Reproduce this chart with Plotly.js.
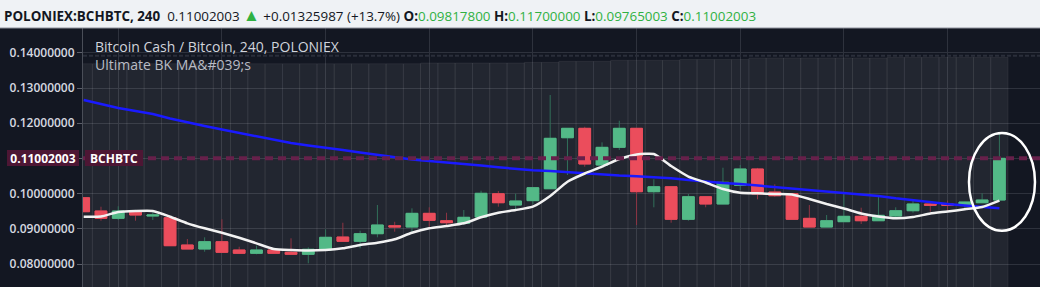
<!DOCTYPE html>
<html><head><meta charset="utf-8">
<script src="https://cdn.plot.ly/plotly-3.0.1.min.js"></script>
<style>html,body{margin:0;padding:0;background:#131722;overflow:hidden}#chart{width:1040px;height:287px}</style>
</head><body><div id="chart"></div>
<script>
// ---- data (BCHBTC, 240 min, POLONIEX) ----
const openP  = [0.09884,0.09506,0.09298,0.09514,0.09364,0.09315,0.08540,0.08426,0.08634,0.08398,
                0.08304,0.08398,0.08332,0.08276,0.08398,0.08767,0.08645,0.08861,0.09088,0.09051,
                0.09440,0.09230,0.09156,0.09335,0.09997,0.09676,0.09800,0.10139,0.11588,0.11855,
                0.10813,0.11315,0.11855,0.10054,0.10196,0.09270,0.09912,0.09705,0.10236,0.10699,
                0.10045,0.10000,0.09298,0.09051,0.09202,0.09355,0.09230,0.09364,0.09514,0.09705,
                0.09705,0.09676,0.09741,0.09817800];
const highP  = [0.09884,0.09628,0.09640,0.09520,0.09477,0.09364,0.08710,0.08759,0.09270,0.08491,
                0.08520,0.08410,0.08730,0.08474,0.08986,0.09173,0.08946,0.09676,0.09200,0.09582,
                0.09611,0.09457,0.09534,0.10082,0.10074,0.10000,0.10170,0.12801,0.11860,0.11900,
                0.11457,0.12071,0.11860,0.10406,0.10200,0.09989,0.09920,0.10736,0.10813,0.10730,
                0.10264,0.10009,0.09676,0.09392,0.10009,0.09600,0.09912,0.09611,0.09798,0.09790,
                0.09800,0.09770,0.10009,0.11700000];
const lowP   = [0.09486,0.09230,0.09250,0.09230,0.09250,0.08520,0.08426,0.08349,0.08332,0.08304,
                0.08276,0.08290,0.08276,0.08020,0.08398,0.08645,0.08446,0.08759,0.08918,0.08872,
                0.09060,0.09060,0.09108,0.09330,0.09628,0.09514,0.09700,0.10139,0.10528,0.10764,
                0.10800,0.11239,0.09108,0.09611,0.09173,0.09230,0.09611,0.09700,0.10102,0.09838,
                0.09912,0.09270,0.09050,0.09050,0.09200,0.09136,0.09230,0.09327,0.09457,0.09486,
                0.09480,0.09534,0.09740,0.09765003];
const closeP = [0.09486,0.09298,0.09506,0.09392,0.09392,0.08520,0.08426,0.08634,0.08332,0.08304,
                0.08398,0.08304,0.08276,0.08418,0.08759,0.08645,0.08861,0.09108,0.09051,0.09440,
                0.09241,0.09173,0.09327,0.10009,0.09741,0.09790,0.10168,0.11571,0.11855,0.10841,
                0.11315,0.11855,0.10054,0.10196,0.09270,0.09912,0.09705,0.10321,0.10699,0.09989,
                0.09940,0.09270,0.09051,0.09230,0.09355,0.09230,0.09383,0.09514,0.09705,0.09668,
                0.09668,0.09761,0.09818,0.11002003];
// Ultimate BK MA's : fast (white) and slow (blue)
const maFast = [0.09344,0.09350,0.09477,0.09506,0.09506,0.09344,0.09156,0.09014,0.08889,0.08747,
                0.08588,0.08426,0.08398,0.08384,0.08398,0.08446,0.08540,0.08605,0.08702,0.08889,
                0.09014,0.09080,0.09156,0.09327,0.09457,0.09534,0.09628,0.09932,0.10338,0.10571,
                0.10764,0.10983,0.11111,0.11125,0.10784,0.10486,0.10315,0.10131,0.10026,0.10009,
                0.09989,0.09974,0.09847,0.09705,0.09577,0.09435,0.09350,0.09298,0.09335,0.09435,
                0.09491,0.09554,0.09619,0.09800];
const maSlow = [0.12659,0.12545,0.12432,0.12347,0.12261,0.12134,0.12020,0.11920,0.11821,0.11722,
                0.11622,0.11523,0.11438,0.11366,0.11310,0.11239,0.11168,0.11097,0.11026,0.10970,
                0.10926,0.10889,0.10850,0.10798,0.10747,0.10699,0.10662,0.10642,0.10605,0.10571,
                0.10543,0.10514,0.10494,0.10472,0.10438,0.10386,0.10338,0.10301,0.10273,0.10230,
                0.10202,0.10159,0.10111,0.10065,0.10031,0.09989,0.09932,0.09866,0.09810,0.09747,
                0.09705,0.09662,0.09619,0.09582];
// background column indicator (stepped top)
const bandTop = [0.13690,0.13690,0.13690,0.13690,0.13690,0.13690,0.13690,0.13690,0.13690,0.13690,
                 0.13690,0.13690,0.13690,0.13690,0.13690,0.13690,0.13690,0.13690,0.13690,0.13690,
                 0.13710,0.13710,0.13710,0.13710,0.13710,0.13710,0.13730,0.13730,0.13759,0.13759,
                 0.13759,0.13787,0.13787,0.13787,0.13787,0.13810,0.13810,0.13810,0.13810,0.13852,
                 0.13852,0.13852,0.13852,0.13852,0.13852,0.13852,0.13852,0.13872,0.13872,0.13872,
                 0.13872,0.13872,0.13872,0.13872];
const upperLine = 0.1392;
const symbol = 'POLONIEX:BCHBTC, 240';
const ticker = 'BCHBTC';
const changeTxt = '+0.01325987 (+13.7%)';
const titleLine = 'Bitcoin Cash / Bitcoin, 240, POLONIEX';
const studyLine = 'Ultimate BK MA&amp;#039;s';
const yTickVals = [0.08,0.09,0.10,0.11,0.12,0.13,0.14];

// ---- build ----
const idx = openP.map((_, i) => i);
const last = idx.length - 1;
const f8 = v => v.toFixed(8);
const bodyHi = openP.map((o, i) => Math.max(o, closeP[i]));
const bodyLo = openP.map((o, i) => Math.min(o, closeP[i]));
const GREEN = '#53b987', RED = '#eb4d5c';

const traces = [
  {type:'bar', x:idx, y:bandTop, width:1, hoverinfo:'skip',
   marker:{color:'rgba(255,255,255,0.065)', line:{color:'rgba(255,255,255,0.06)', width:1}}},
  {type:'scatter', mode:'lines', x:idx, y:maSlow, hoverinfo:'skip',
   line:{color:'#1a1aff', width:2.5}},
  {type:'scatter', mode:'lines', x:idx, y:maFast, hoverinfo:'skip',
   line:{color:'#f2f2f2', width:2.5, shape:'spline', smoothing:0.5}},
  {type:'candlestick', x:idx, open:openP, high:highP, low:lowP, close:closeP, hoverinfo:'skip',
   increasing:{line:{color:'#32705a', width:1}, fillcolor:'#32705a'},
   decreasing:{line:{color:'#8e3444', width:1}, fillcolor:'#8e3444'}},
  {type:'candlestick', x:idx, open:openP, high:bodyHi, low:bodyLo, close:closeP, hoverinfo:'skip',
   increasing:{line:{color:GREEN, width:1}, fillcolor:GREEN},
   decreasing:{line:{color:RED, width:1}, fillcolor:RED}}
];

const PW = 1040 - 83, PH = 287 - 28;
const G = '#2fb142';
const headerTxt = '<b>' + symbol + '</b>\u00a0\u00a00.11002003 <span style="color:' + G + ';font-size:17px">▲</span> ' + changeTxt +
  ' <b>O:</b><span style="color:' + G + '">' + f8(openP[last]) + '</span>' +
  ' <b>H:</b><span style="color:' + G + '">' + f8(highP[last]) + '</span>' +
  ' <b>L:</b><span style="color:' + G + '">' + f8(lowP[last]) + '</span>' +
  ' <b>C:</b><span style="color:' + G + '">' + f8(closeP[last]) + '</span>';

const layout = {
  width:1040, height:287,
  margin:{l:83, r:0, t:28, b:0, pad:0},
  paper_bgcolor:'#131722', plot_bgcolor:'#131722',
  showlegend:false, boxgap:0.32, boxgroupgap:0, bargap:0,
  xaxis:{range:[-0.04, 55.35], showticklabels:false, showgrid:true, gridcolor:'#2e323d',
         tick0:2, dtick:6, zeroline:false, showline:false, ticks:'', rangeslider:{visible:false}, fixedrange:true},
  yaxis:{range:[0.07347, 0.14705], tickvals:yTickVals, tickformat:'.8f', showgrid:true, gridcolor:'#2e323d',
         zeroline:false, showline:true, linecolor:'#4a4e58', linewidth:1, ticks:'outside', ticklen:5,
         tickcolor:'#5d606b', tickfont:{family:'Open Sans', size:12, color:'#d6d9e0', weight:600}, fixedrange:true},
  shapes:[
    {type:'rect', xref:'paper', yref:'paper', x0:-0.1, x1:1.01, y0:1, y1:1.12, fillcolor:'#eff2f5', line:{width:0}, layer:'below'},
    {type:'line', xref:'paper', yref:'paper', x0:-0.1, x1:1.01, y0:1, y1:1, line:{color:'#8f939c', width:1}},
    {type:'line', xref:'paper', yref:'y', x0:0, x1:1, y0:upperLine, y1:upperLine, line:{color:'#2a2e3a', width:2, dash:'4px,2px'}, layer:'above'},
    {type:'line', xref:'paper', yref:'y', x0:0, x1:1, y0:closeP[last], y1:closeP[last], line:{color:'#66204a', width:4, dash:'8px,5px'}, layer:'above'},
    {type:'circle', xref:'x', yref:'y', x0:last-1.76, x1:last+2.06, y0:lowP[last]-0.0082, y1:highP[last]+0.0002,
     line:{color:'#ffffff', width:2.5}, layer:'above'}
  ],
  annotations:[
    {xref:'paper', yref:'paper', x:-81/PW, y:1+14/PH, xanchor:'left', yanchor:'middle', showarrow:false,
     text:headerTxt, font:{family:'Open Sans', size:13.4, color:'#131722'}},
    {xref:'paper', yref:'paper', x:10/PW, y:1-18.5/PH, xanchor:'left', yanchor:'middle', showarrow:false,
     text:titleLine, font:{family:'Open Sans', size:14, color:'#d1d4dc'}},
    {xref:'paper', yref:'paper', x:10/PW, y:1-37/PH, xanchor:'left', yanchor:'middle', showarrow:false,
     text:studyLine, font:{family:'Open Sans', size:14, color:'#b8bbc4'}},
    {xref:'paper', yref:'y', x:-3.7/PW, y:closeP[last], xanchor:'right', yanchor:'middle', showarrow:false,
     text:'<b>' + f8(closeP[last]) + '</b>', font:{family:'Open Sans', size:12, color:'#ffffff'},
     bgcolor:'#4d1634', borderpad:1, borderwidth:1, bordercolor:'#4d1634', width:68, height:12},
    {xref:'paper', yref:'y', x:2/PW, y:closeP[last], xanchor:'left', yanchor:'middle', showarrow:false,
     text:'<b>' + ticker + '</b>', font:{family:'Open Sans', size:12, color:'#ffffff'},
     bgcolor:'#4d1634', borderpad:1, borderwidth:1, bordercolor:'#4d1634', width:54, height:12}
  ]
};
Plotly.newPlot('chart', traces, layout, {staticPlot:true, displayModeBar:false});
</script></body></html>
